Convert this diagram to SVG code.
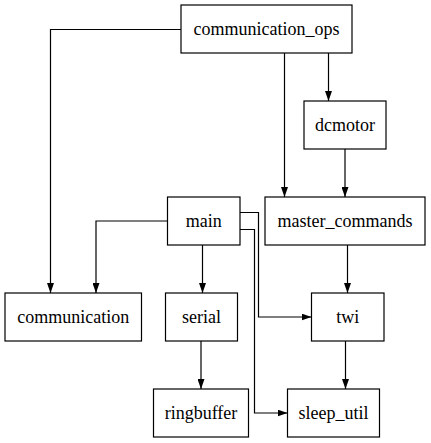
<svg xmlns="http://www.w3.org/2000/svg" width="431" height="443" viewBox="0 0 431 443">
<style>
.box{fill:#fff;stroke:#000;stroke-width:1.2}
.e path{fill:none;stroke:#000;stroke-width:1.2;marker-end:url(#a)}
</style>
<defs>
<marker id="a" viewBox="0 0 10 7" refX="10" refY="3.5" markerWidth="10" markerHeight="7" markerUnits="userSpaceOnUse" orient="auto">
<path d="M0,0 L10,3.5 L0,7 z" fill="#000"/>
</marker>
</defs>
<rect width="431" height="443" fill="#fff"/>
<g id="edges" class="e">
<path d="M181,29.5 H50.5 V293"/>
<path d="M284.5,53 V197"/>
<path d="M328.5,53 V101"/>
<path d="M345,149 V197"/>
<path d="M167.5,221 H96 V293"/>
<path d="M202.5,245 V293"/>
<path d="M240,212.5 H258.5 V317 H311.5"/>
<path d="M240,229.5 H254.5 V413 H287.5"/>
<path d="M347.5,245 V293"/>
<path d="M201,341 V389"/>
<path d="M345.5,341 V389"/>
</g>
<g font-family="Liberation Serif, serif" font-size="18" text-anchor="middle">
<g id="communication_ops"><rect class="box" x="181" y="5" width="171" height="48"/><text x="266.5" y="35">communication_ops</text></g>
<g id="dcmotor"><rect class="box" x="304" y="101" width="82" height="48"/><text x="345" y="131">dcmotor</text></g>
<g id="main"><rect class="box" x="167.5" y="197" width="72.5" height="48"/><text x="203.7" y="227">main</text></g>
<g id="master_commands"><rect class="box" x="265" y="197" width="160" height="48"/><text x="345" y="227">master_commands</text></g>
<g id="communication"><rect class="box" x="5" y="293" width="136.5" height="48"/><text x="73.2" y="323">communication</text></g>
<g id="serial"><rect class="box" x="165.5" y="293" width="72" height="48"/><text x="201.5" y="323">serial</text></g>
<g id="twi"><rect class="box" x="311.5" y="293" width="72.5" height="48"/><text x="347.7" y="323">twi</text></g>
<g id="ringbuffer"><rect class="box" x="153.5" y="389" width="95" height="48"/><text x="201" y="419">ringbuffer</text></g>
<g id="sleep_util"><rect class="box" x="287.5" y="389" width="92" height="48"/><text x="333.5" y="419">sleep_util</text></g>
</g>
</svg>
